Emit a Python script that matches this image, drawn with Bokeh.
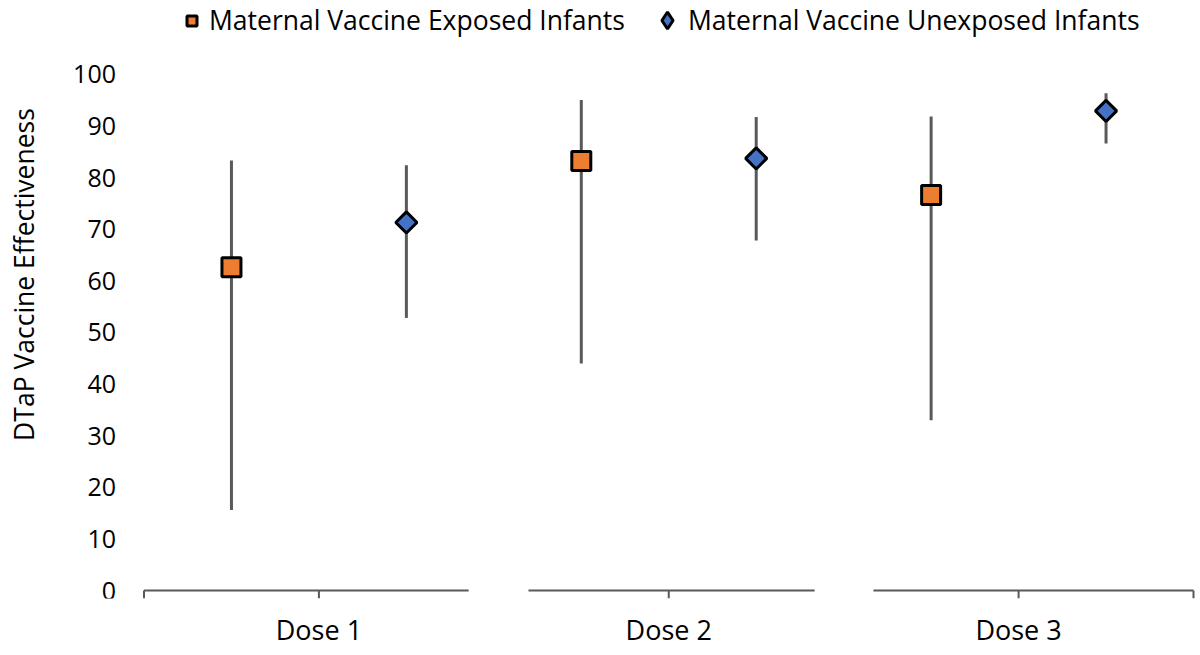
import math
from bokeh.plotting import figure
from bokeh.models import Range1d, FixedTicker, Legend, LegendItem, ColumnDataSource, Label
from bokeh.embed import file_html
from bokeh.resources import INLINE

# ---------------- data ----------------
doses = ["Dose 1", "Dose 2", "Dose 3"]
series_names = ["Maternal Vaccine Exposed Infants", "Maternal Vaccine Unexposed Infants"]

exposed_ve = [62.6, 83.2, 76.6]
exposed_lower = [15.6, 44.0, 33.0]
exposed_upper = [83.3, 95.0, 91.8]

unexposed_ve = [71.3, 83.7, 92.9]
unexposed_lower = [52.8, 67.8, 86.6]
unexposed_upper = [82.4, 91.7, 96.3]

y_ticks = [0, 10, 20, 30, 40, 50, 60, 70, 80, 90, 100]
y_label = "DTaP Vaccine Effectiveness"

# ---------------- style ----------------
FONT = "Open Sans"
ORANGE = "#ED7D31"
BLUE = "#4472C4"
BAR = "#595959"
AXIS = "#595959"

centers = [i + 0.5 for i in range(len(doses))]
dodge = 0.25
x_exp = [c - dodge for c in centers]
x_unexp = [c + dodge for c in centers]

src_exp = ColumnDataSource(dict(x=x_exp, ve=exposed_ve, lo=exposed_lower, hi=exposed_upper))
src_unexp = ColumnDataSource(dict(x=x_unexp, ve=unexposed_ve, lo=unexposed_lower, hi=unexposed_upper))

# the plotting frame covers the whole canvas above the category labels;
# the value axis is pinned at x = 0
p = figure(width=1200, height=650, output_backend="svg", toolbar_location=None,
           x_range=Range1d(-0.4102, len(doses) + 0.02),
           y_range=Range1d(-1.544, 114.29),
           min_border_left=0, min_border_right=0,
           min_border_top=0, min_border_bottom=50)
p.outline_line_color = None
p.xgrid.visible = False
p.ygrid.visible = False
p.background_fill_color = "white"
p.border_fill_color = "white"

# y axis
p.yaxis.fixed_location = 0
p.yaxis.ticker = FixedTicker(ticks=y_ticks)
p.yaxis.axis_line_color = None
p.yaxis.major_tick_line_color = None
p.yaxis.minor_tick_line_color = None
p.yaxis.major_tick_out = 0
p.yaxis.major_tick_in = 0
p.yaxis.major_label_standoff = 28
p.yaxis.major_label_text_font = FONT
p.yaxis.major_label_text_font_size = "25px"
p.yaxis.major_label_text_color = "black"

p.add_layout(Label(x=23, y=324, x_units="screen", y_units="screen", text=y_label,
                   angle=math.pi / 2, text_align="center", text_baseline="middle",
                   text_font=FONT, text_font_size="26.5px", text_color="black"))

# x axis (labels only; line drawn below as broken segments)
p.xaxis.ticker = FixedTicker(ticks=centers)
p.xaxis.major_label_overrides = {c: d for c, d in zip(centers, doses)}
p.xaxis.axis_line_color = None
p.xaxis.major_tick_line_color = None
p.xaxis.minor_tick_line_color = None
p.xaxis.major_tick_out = 0
p.xaxis.major_tick_in = 0
p.xaxis.major_label_standoff = 12
p.xaxis.major_label_text_font = FONT
p.xaxis.major_label_text_font_size = "27px"
p.xaxis.major_label_text_color = "black"

# broken category axis line at y = 0
seg_start = [0, 1.099, 2.085]
seg_end = [0.928, 1.917, 3]
p.segment(x0=seg_start, y0=[0] * 3, x1=seg_end, y1=[0] * 3, line_color=AXIS, line_width=2)
tick_x = [0] + centers + [len(doses)]
p.segment(x0=tick_x, y0=[0] * len(tick_x), x1=tick_x, y1=[p.y_range.start] * len(tick_x),
          line_color=AXIS, line_width=2)

# error bars
p.segment(x0="x", y0="lo", x1="x", y1="hi", source=src_exp, line_color=BAR, line_width=3)
p.segment(x0="x", y0="lo", x1="x", y1="hi", source=src_unexp, line_color=BAR, line_width=3)

# legend swatch for the diamond series (legend glyphs are drawn unrotated);
# zero-size markers sit hidden under the real points
r_unexp_key = p.scatter(x="x", y="ve", source=src_unexp, marker="diamond", size=0,
                        fill_color=BLUE, line_color="black", line_width=3)

# points
r_exp = p.scatter(x="x", y="ve", source=src_exp, marker="square", size=19,
                  fill_color=ORANGE, line_color="black", line_width=3)
r_unexp = p.scatter(x="x", y="ve", source=src_unexp, marker="square", size=15, angle=math.pi / 4,
                    fill_color=BLUE, line_color="black", line_width=3)

legend_common = dict(orientation="horizontal", label_standoff=5, padding=0, margin=0,
                     border_line_color=None, background_fill_alpha=0,
                     label_text_font=FONT, label_text_font_size="26.5px",
                     label_text_color="black")
legend1 = Legend(items=[LegendItem(label=series_names[0], renderers=[r_exp])],
                 location=(179, 560), glyph_width=25, glyph_height=25, **legend_common)
legend2 = Legend(items=[LegendItem(label=series_names[1], renderers=[r_unexp_key])],
                 location=(646, 557), glyph_width=42, glyph_height=42, **legend_common)
legend2.label_standoff = 0
p.add_layout(legend1, "center")
p.add_layout(legend2, "center")

open("out.html", "w").write(file_html(p, INLINE))
